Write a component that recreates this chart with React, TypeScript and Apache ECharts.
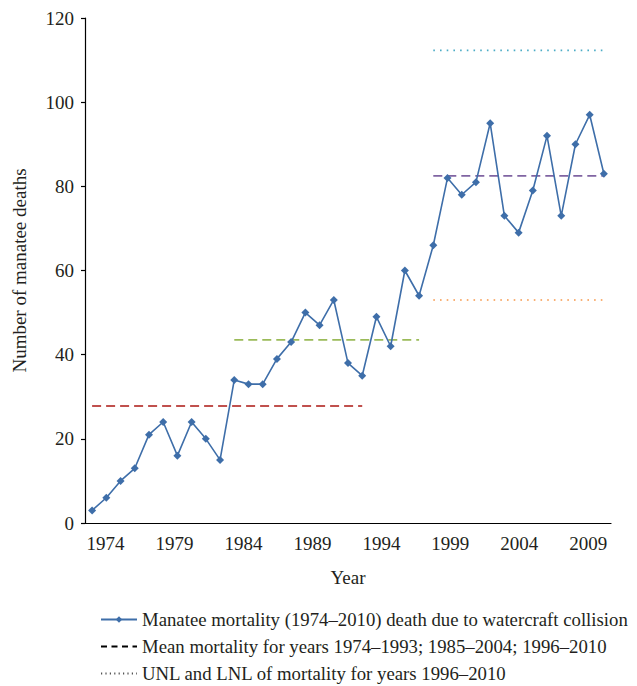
import React, { useEffect, useRef } from "react";
import * as echarts from "echarts";

const years: string[] = [];
for (let y = 1974; y <= 2010; y++) years.push(String(y));

const deaths = [
  3, 6, 10, 13, 21, 24, 16, 24, 20, 15,
  34, 33, 33, 39, 43, 50, 47, 53, 38, 35,
  49, 42, 60, 54, 66, 82, 78, 81, 95, 73,
  69, 79, 92, 73, 90, 97, 83,
];

const tickLabels = ["1974", "1979", "1984", "1989", "1994", "1999", "2004", "2009"];

const meanValues = [27.8, 43.5, 82.5];
const meanRanges: [number, number][] = [
  [1974, 1993],
  [1984, 1997],
  [1998, 2010],
];
const meanColors = ["#C0504D", "#9BBB59", "#8064A2"];

const limitValues = [112.3, 53.0];
const limitRange: [number, number] = [1998, 2010];
const limitColors = ["#4BACC6", "#F79646"];

const legendNames = [
  "Manatee mortality (1974–2010) death due to watercraft collision",
  "Mean mortality for years 1974–1993; 1985–2004; 1996–2010",
  "UNL and LNL of mortality for years 1996–2010",
];

const FONT = "'Liberation Serif', 'Times New Roman', serif";
const TXT = "#231f20";

function rangeData(v: number, r: [number, number]) {
  return years.map((y) => {
    const n = Number(y);
    return n >= r[0] && n <= r[1] ? v : null;
  });
}

export default function App() {
  const ref = useRef<HTMLDivElement>(null);
  useEffect(() => {
    document.body.style.margin = "0";
    const chart = echarts.init(ref.current!, null, { renderer: "svg" });
    const labelPos = tickLabels.map((_, i) => 1.45 + i * 4.85);
    const series: any[] = [
      {
        name: legendNames[0],
        type: "line",
        data: deaths,
        symbol: "diamond",
        symbolSize: 8,
        color: "#3E6EA9",
        lineStyle: { width: 1.6, color: "#3E6EA9" },
        itemStyle: { color: "#3E6EA9" },
        z: 5,
      },
      {
        name: legendNames[1],
        type: "line",
        data: [],
        symbol: "none",
        color: "#000",
        lineStyle: { width: 1.3, type: [6, 4.5], color: "#000" },
      },
      {
        name: legendNames[2],
        type: "line",
        data: [],
        symbol: "none",
        color: "#555",
        lineStyle: { width: 1.2, type: [1.2, 3.2], color: "#555" },
      },
    ];
    meanValues.forEach((v, i) => {
      series.push({
        name: "mean" + i,
        type: "line",
        data: rangeData(v, meanRanges[i]),
        symbol: "none",
        lineStyle: { width: 1.8, type: [9, 5], color: meanColors[i] },
        z: 3,
      });
    });
    limitValues.forEach((v, i) => {
      series.push({
        name: "limit" + i,
        type: "line",
        data: rangeData(v, limitRange),
        symbol: "none",
        lineStyle: { width: 1.6, type: [1.6, 5.1], color: limitColors[i] },
        z: 3,
      });
    });
    chart.setOption({
      animation: false,
      backgroundColor: "#fff",
      textStyle: { fontFamily: FONT },
      grid: { left: 85, right: 26, top: 18, bottom: 163 },
      legend: {
        data: [
          { name: legendNames[0] },
          { name: legendNames[1], itemStyle: { opacity: 0 } },
          { name: legendNames[2], itemStyle: { opacity: 0 } },
        ],
        orient: "vertical",
        left: 100,
        top: 610,
        height: 120,
        padding: 0,
        itemWidth: 36,
        itemHeight: 8,
        itemGap: 8,
        selectedMode: false,
        textStyle: { fontFamily: FONT, fontSize: 18.75, color: TXT },
      },
      xAxis: [
        {
          type: "category",
          data: years,
          boundaryGap: true,
          name: "Year",
          nameLocation: "middle",
          nameGap: 45,
          nameTextStyle: { fontFamily: FONT, fontSize: 19, color: TXT },
          axisLine: { lineStyle: { color: "#000", width: 1.2 } },
          axisTick: { interval: 0, length: 4, lineStyle: { color: "#000", width: 1.2 } },
          axisLabel: { show: false },
          splitLine: { show: false },
        },
        {
          type: "value",
          position: "bottom",
          min: 0,
          max: years.length,
          axisLine: { show: false },
          axisTick: { show: false },
          splitLine: { show: false },
          axisLabel: {
            customValues: labelPos,
            margin: 11,
            fontFamily: FONT,
            fontSize: 19,
            color: TXT,
            formatter: (v: number) => {
              const idx = labelPos.findIndex((p) => Math.abs(p - v) < 1e-6);
              return idx >= 0 ? tickLabels[idx] : "";
            },
          },
        },
      ],
      yAxis: {
        type: "value",
        min: 0,
        max: 120,
        interval: 20,
        name: "Number of manatee deaths",
        nameLocation: "middle",
        nameGap: 56,
        nameRotate: 90,
        nameTextStyle: { fontFamily: FONT, fontSize: 19, color: TXT },
        axisLine: { show: true, lineStyle: { color: "#000", width: 1.2 } },
        axisTick: { show: true, length: 4, lineStyle: { color: "#000", width: 1.2 } },
        axisLabel: { margin: 11, fontFamily: FONT, fontSize: 19, color: TXT },
        splitLine: { show: false },
      },
      series,
    });
    return () => chart.dispose();
  }, []);
  return <div ref={ref} style={{ width: 637, height: 686 }} />;
}
